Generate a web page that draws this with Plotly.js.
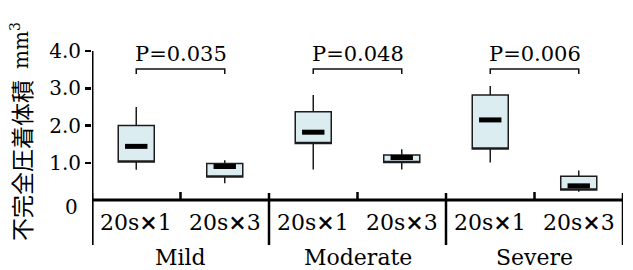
<!DOCTYPE html>
<html><head><meta charset="utf-8">
<script src="https://cdn.plot.ly/plotly-3.0.1.min.js"></script>
<style>html,body{margin:0;padding:0;background:#fff}</style>
</head><body><div id="chart" style="width:633px;height:270px"></div>
<script>
const categories = ['20s<b>×</b>1','20s<b>×</b>3','20s<b>×</b>1','20s<b>×</b>3','20s<b>×</b>1','20s<b>×</b>3'];
const groups = ['Mild','Moderate','Severe'];
const pValues = ['P=0.035','P=0.048','P=0.006'];
const upperWhisker = [2.50,1.07,2.82,1.36,3.06,0.79];
const q3 = [2.00,0.98,2.37,1.21,2.82,0.64];
const median = [1.44,0.90,1.82,1.14,2.15,0.38];
const q1 = [1.02,0.62,1.52,1.01,1.37,0.27];
const lowerWhisker = [0.81,0.45,0.82,0.82,1.01,0.22];
const yTickVals = [1,2,3,4];
const yTickText = ['1.0','2.0','3.0','4.0'];
const yTitle = '不完全圧着体積';
const yUnit = 'mm<sup>3</sup>';

const xs = categories.map((_, i) => i);
const U = 37.25; // px per unit (for layout conversions only)
const serif = 'DejaVu Serif, serif';

const traces = [
  {
    type: 'box', x: xs, q1: q1, median: q1, q3: q3,
    lowerfence: lowerWhisker, upperfence: upperWhisker,
    width: 0.407, whiskerwidth: 0, boxpoints: false,
    fillcolor: '#dcedf2', line: {color: '#1c1c1c', width: 1.5},
    hoverinfo: 'skip', showlegend: false
  },
  {
    type: 'scatter', mode: 'markers', x: xs, y: median,
    marker: {symbol: 'line-ew', size: 16, color: '#000', line: {color: '#000', width: 5}},
    hoverinfo: 'skip', showlegend: false, cliponaxis: false
  }
];

const shapes = [];
const black = {color: '#000', width: 3};
shapes.push({type: 'line', xref: 'x', yref: 'y', x0: -0.5, x1: -0.5, y0: -45/U, y1: 4, line: black});
shapes.push({type: 'line', xref: 'x', yref: 'y', x0: -0.5, x1: 5.5, y0: 0, y1: 0, line: black});
for (let g = 0; g <= groups.length; g++) {
  const xx = 2*g - 0.5;
  shapes.push({type: 'line', xref: 'x', yref: 'y', x0: xx, x1: xx, y0: -45/U, y1: 7/U, line: {color: '#000', width: 2.5}});
}
groups.forEach((g, i) => {
  const xm = 2*i + 0.5;
  shapes.push({type: 'line', xref: 'x', yref: 'y', x0: xm, x1: xm, y0: 0, y1: 8/U, line: {color: '#000', width: 2.5}});
  const a = 2*i, b = 2*i + 1, top = 131/U, bot = 126/U;
  shapes.push({type: 'path', xref: 'x', yref: 'y',
    path: `M ${a},${bot} L ${a},${top} L ${b},${top} L ${b},${bot}`,
    line: {color: '#111', width: 1.5}});
});

const annotations = [];
groups.forEach((g, i) => {
  annotations.push({x: 2*i + 0.5, y: -57/U, xref: 'x', yref: 'y', text: g, showarrow: false,
    xanchor: 'center', yanchor: 'middle', font: {family: serif, size: 22, color: '#000'}});
  annotations.push({x: 2*i + 0.5, y: 131/U, xref: 'x', yref: 'y', text: pValues[i], showarrow: false,
    xanchor: 'center', yanchor: 'bottom', yshift: 1, font: {family: serif, size: 21, color: '#000'}});
});
categories.forEach((c, i) => {
  annotations.push({x: i, y: -22/U, xref: 'x', yref: 'y', text: c, showarrow: false,
    xanchor: 'center', yanchor: 'middle', font: {family: serif, size: 22, color: '#000'}});
});
annotations.push({x: (80-92)/531, y: -7/U, xref: 'paper', yref: 'y', text: '0', showarrow: false,
  xanchor: 'right', yanchor: 'middle', font: {family: serif, size: 20, color: '#000'}});
annotations.push({x: (21-92)/531, y: (200-161)/U, xref: 'paper', yref: 'y', text: yTitle, showarrow: false,
  textangle: -90, xanchor: 'center', yanchor: 'middle', font: {family: 'Noto Sans CJK JP, sans-serif', size: 23, color: '#000'}});
annotations.push({x: (20-92)/531, y: (200-46)/U, xref: 'paper', yref: 'y', text: yUnit, showarrow: false,
  textangle: -90, xanchor: 'center', yanchor: 'middle', font: {family: serif, size: 20, color: '#000'}});

const layout = {
  width: 633, height: 270,
  margin: {l: 92, r: 10, t: 0, b: 0},
  paper_bgcolor: '#fff', plot_bgcolor: '#fff',
  xaxis: {range: [-0.5, 5.5], showgrid: false, zeroline: false, showline: false,
    showticklabels: false, ticks: '', fixedrange: true},
  yaxis: {range: [-70/U, 200/U], showgrid: false, zeroline: false, showline: false,
    tickmode: 'array', tickvals: yTickVals, ticktext: yTickText,
    ticks: 'outside', ticklen: 6, tickwidth: 2.5, tickcolor: '#000',
    tickfont: {family: serif, size: 20, color: '#000'}, fixedrange: true},
  shapes: shapes, annotations: annotations, showlegend: false
};

Plotly.newPlot('chart', traces, layout, {staticPlot: true, displayModeBar: false});
</script></body></html>
